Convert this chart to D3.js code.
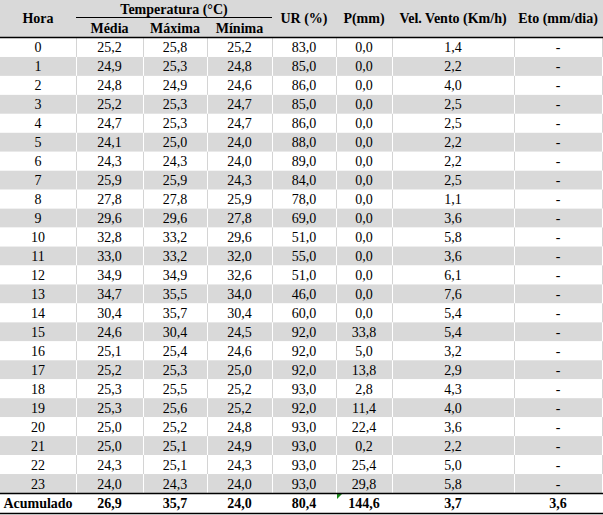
<!DOCTYPE html>
<html>
<head>
<meta charset="utf-8">
<script src="https://cdn.jsdelivr.net/npm/d3@7"></script>
<style>
  body { margin: 0; background: #fff; }
  text { font-family: "Liberation Serif", "Times New Roman", serif; font-size: 14px; fill: #000; }
  .bold { font-weight: bold; }
</style>
</head>
<body>
<script>
var horas  = ['0','1','2','3','4','5','6','7','8','9','10','11','12','13','14','15','16','17','18','19','20','21','22','23'];
var media  = ['25,2','24,9','24,8','25,2','24,7','24,1','24,3','25,9','27,8','29,6','32,8','33,0','34,9','34,7','30,4','24,6','25,1','25,2','25,3','25,3','25,0','25,0','24,3','24,0'];
var maxima = ['25,8','25,3','24,9','25,3','25,3','25,0','24,3','25,9','27,8','29,6','33,2','33,2','34,9','35,5','35,7','30,4','25,4','25,3','25,5','25,6','25,2','25,1','25,1','24,3'];
var minima = ['25,2','24,8','24,6','24,7','24,7','24,0','24,0','24,3','25,9','27,8','29,6','32,0','32,6','34,0','30,4','24,5','24,6','25,0','25,2','25,2','24,8','24,9','24,3','24,0'];
var ur     = ['83,0','85,0','86,0','85,0','86,0','88,0','89,0','84,0','78,0','69,0','51,0','55,0','51,0','46,0','60,0','92,0','92,0','92,0','93,0','92,0','93,0','93,0','93,0','93,0'];
var chuva  = ['0,0','0,0','0,0','0,0','0,0','0,0','0,0','0,0','0,0','0,0','0,0','0,0','0,0','0,0','0,0','33,8','5,0','13,8','2,8','11,4','22,4','0,2','25,4','29,8'];
var vento  = ['1,4','2,2','4,0','2,5','2,5','2,2','2,2','2,5','1,1','3,6','5,8','3,6','6,1','7,6','5,4','5,4','3,2','2,9','4,3','4,0','3,6','2,2','5,0','5,8'];
var eto    = ['-','-','-','-','-','-','-','-','-','-','-','-','-','-','-','-','-','-','-','-','-','-','-','-'];
var acumulado = ['Acumulado','26,9','35,7','24,0','80,4','144,6','3,7','3,6'];
var subHeaders = ['Média', 'Máxima', 'Mínima'];
var mainHeaders = [
  { col: 0, text: 'Hora' },
  { col: 4, text: 'UR (%)' },
  { col: 5, text: 'P(mm)' },
  { col: 6, text: 'Vel. Vento (Km/h)' },
  { col: 7, text: 'Eto (mm/dia)' }
];

var w = 603, h = 515;
var edges = [0, 76, 143, 207, 272, 336, 392, 514, 602];
var headH = 37, tableBottom = 493;

var svg = d3.select('body').append('svg')
  .attr('width', w)
  .attr('height', h);

var y = d3.scaleBand()
  .domain(horas)
  .range([headH + 1, tableBottom]);

function colMid(i) { return (edges[i] + edges[i + 1]) / 2; }

var rows = horas.map(function(hr, i) {
  return [hr, media[i], maxima[i], minima[i], ur[i], chuva[i], vento[i], eto[i]];
});

// header band
svg.append('rect')
  .attr('x', 0).attr('y', 0)
  .attr('width', w).attr('height', headH)
  .attr('fill', '#d9d9d9');

svg.selectAll('.head')
  .data(mainHeaders)
  .enter()
  .append('text')
    .attr('class', 'bold')
    .attr('x', function(d) { return colMid(d.col); })
    .attr('y', 23)
    .attr('text-anchor', 'middle')
    .text(function(d) { return d.text; });

svg.append('text')
  .attr('class', 'bold')
  .attr('x', (edges[1] + edges[4]) / 2)
  .attr('y', 14)
  .attr('text-anchor', 'middle')
  .text('Temperatura (°C)');

svg.append('line')
  .attr('x1', edges[1]).attr('x2', edges[4])
  .attr('y1', 17.5).attr('y2', 17.5)
  .attr('stroke', '#000').attr('stroke-width', 1);

svg.selectAll('.sub')
  .data(subHeaders)
  .enter()
  .append('text')
    .attr('class', 'bold')
    .attr('x', function(d, i) { return colMid(i + 1); })
    .attr('y', 33)
    .attr('text-anchor', 'middle')
    .text(function(d) { return d; });

// body rows
var row = svg.selectAll('.row')
  .data(rows)
  .enter()
  .append('g')
    .attr('transform', function(d) { return 'translate(0,' + y(d[0]) + ')'; });

row.append('rect')
  .attr('width', w)
  .attr('height', y.bandwidth())
  .attr('fill', function(d, i) { return i % 2 ? '#d9d9d9' : '#fff'; });

row.selectAll('.sep')
  .data(function(d, i) { return edges.slice(1).map(function(e) { return { x: e, odd: i % 2 }; }); })
  .enter()
  .append('line')
    .attr('x1', function(d) { return d.x + 0.5; })
    .attr('x2', function(d) { return d.x + 0.5; })
    .attr('y1', 0)
    .attr('y2', y.bandwidth())
    .attr('stroke', function(d) { return d.odd ? '#fff' : '#d4d4d4'; });

row.selectAll('.cell')
  .data(function(d) { return d; })
  .enter()
  .append('text')
    .attr('x', function(d, i) { return colMid(i); })
    .attr('y', y.bandwidth() / 2 + 5)
    .attr('text-anchor', 'middle')
    .text(function(d) { return d; });

// total row
svg.append('g').selectAll('.tot')
  .data(acumulado)
  .enter()
  .append('text')
    .attr('class', 'bold')
    .attr('x', function(d, i) { return colMid(i); })
    .attr('y', tableBottom + 15)
    .attr('text-anchor', 'middle')
    .text(function(d) { return d; });

svg.append('path')
  .attr('d', 'M' + (edges[5] + 1) + ',' + (tableBottom + 1) + 'h5l-5,5z')
  .attr('fill', '#1a8a1a');

svg.selectAll('.rule')
  .data([headH, tableBottom, 513])
  .enter()
  .append('line')
    .attr('x1', 0).attr('x2', w)
    .attr('y1', function(d) { return d + 0.5; })
    .attr('y2', function(d) { return d + 0.5; })
    .attr('stroke', '#000')
    .attr('stroke-width', 1.5);
</script>
</body>
</html>
